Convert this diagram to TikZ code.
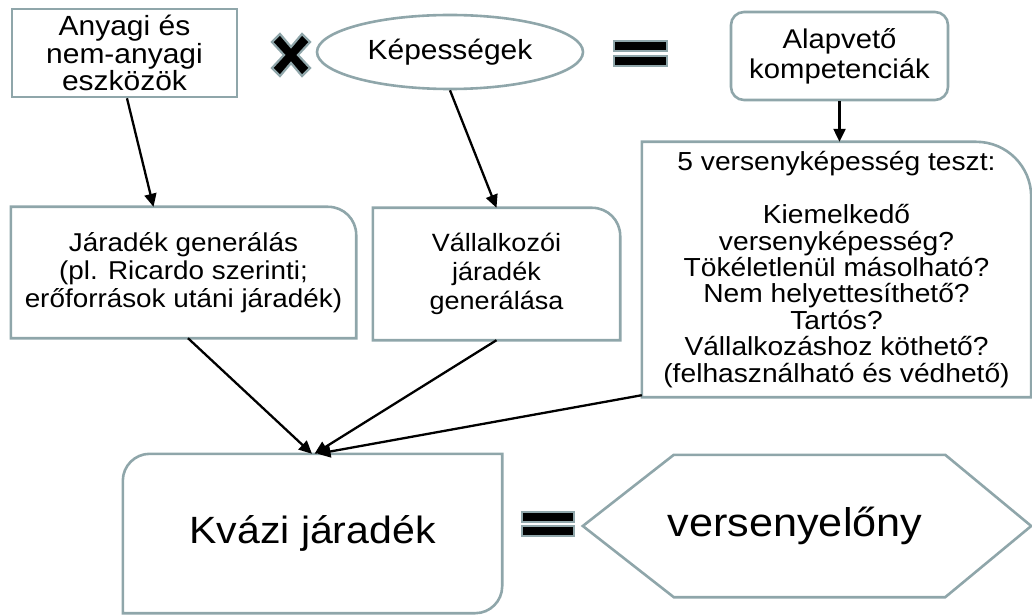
\documentclass[tikz,border=0pt]{standalone}
\usepackage{fontspec}
\setmainfont{Liberation Sans}[FakeStretch=1.08]
\usetikzlibrary{shapes.geometric,arrows.meta,calc}
\definecolor{edge}{RGB}{143,166,170}

\begin{document}
\begin{tikzpicture}[x=1pt,y=1pt,
  outline/.style={draw=edge,line width=2.6pt},
  box/.style={inner sep=0pt,align=center,text=black},
  flow/.style={draw=black,line width=2.3pt,-{Triangle[length=13pt,width=12pt]}},
  symbol/.style={fill=black,draw=edge,line width=2.2pt}
]
\useasboundingbox (0,0) rectangle (1032,614);

% top row: assets x abilities = core competences
\node[box,outline,rectangle,minimum width=225pt,minimum height=88pt,
      font=\fontsize{27.75}{27.5}\selectfont] (assets) at (124.5,561)
      {Anyagi és\\nem-anyagi\\eszközök};
\node[box,outline,ellipse,minimum width=266pt,minimum height=74pt,
      font=\fontsize{27.7}{29}\selectfont] (abil) at (450,562) {Képességek};
\node[box,outline,rectangle,rounded corners=13pt,minimum width=217pt,minimum height=88pt,
      font=\fontsize{27.1}{30}\selectfont] (core) at (839.5,558)
      {Alapvető\\kompetenciák};

% multiplication sign
\begin{scope}[shift={(291,559)}]
  \path[symbol] (-19,13) -- (-11,21) -- (0,8) -- (11,21) -- (19,13) -- (7,0)
    -- (19,-13) -- (11,-21) -- (0,-8) -- (-11,-21) -- (-19,-13) -- (-7,0) -- cycle;
\end{scope}

% equals sign, top
\path[symbol] (614,563) rectangle (667,573);
\path[symbol] (614,548) rectangle (667,558);

% middle row
\node[box,minimum width=345pt,minimum height=131pt,
      font=\fontsize{25.8}{28}\selectfont] (rent) at (183.5,341.5)
      {Járadék generálás\\(pl. Ricardo szerinti;\\erőforrások utáni járadék)};
\draw[outline] (rent.south west) -- (rent.north west) -- ($(rent.north east)+(-28,0)$)
  arc[start angle=90,end angle=0,radius=28] -- (rent.south east) -- cycle;

\node[box,minimum width=247pt,minimum height=132pt,
      font=\fontsize{25}{29}\selectfont] (entre) at (496.5,340)
      {Vállalkozói\\járadék\\generálása};
\draw[outline] (entre.south west) -- (entre.north west) -- ($(entre.north east)+(-28,0)$)
  arc[start angle=90,end angle=0,radius=28] -- (entre.south east) -- cycle;

\node[box,minimum width=389pt,minimum height=255pt,
      font=\fontsize{26.1}{26.4}\selectfont] (test) at (836.5,344.5)
      {5 versenyképesség teszt:\\[26.4pt]Kiemelkedő\\versenyképesség?\\Tökéletlenül másolható?\\Nem helyettesíthető?\\Tartós?\\Vállalkozáshoz köthető?\\(felhasználható és védhető)};
\draw[outline] (test.south west) -- (test.north west) -- ($(test.north east)+(-55,0)$)
  arc[start angle=90,end angle=0,radius=55] -- (test.south east) -- cycle;

% bottom row: quasi rent = competitive advantage
\node[box,minimum width=379pt,minimum height=159pt,
      font=\fontsize{38}{40}\selectfont] (quasi) at (312.5,80.5) {Kvázi járadék};
\draw[outline] ($(quasi.north west)+(0,-27)$) arc[start angle=180,end angle=90,radius=27]
  -- (quasi.north east) -- ($(quasi.south east)+(0,27)$)
  arc[start angle=0,end angle=-90,radius=27] -- (quasi.south west) -- cycle;

\path[symbol] (522,92) rectangle (574,102);
\path[symbol] (522,78) rectangle (574,88);

\node[box,minimum width=424pt,minimum height=142pt,
      font=\fontsize{40}{42}\selectfont] (adv) at (795,88) {versenyelőny};
\draw[outline] (adv.west) -- ($(adv.north west)+(91,0)$) -- ($(adv.north east)+(-62,0)$)
  -- ($(adv.east)+(24,0)$) -- ($(adv.south east)+(-62,0)$) -- ($(adv.south west)+(91,0)$) -- cycle;

% connectors
\draw[flow] ([xshift=2.5pt]assets.south) -- ([xshift=-30pt]rent.north);
\draw[flow] (abil.south) -- (entre.north);
\draw[flow] (core.south) -- (core.south |- test.north);
\draw[flow] ([xshift=4.5pt]rent.south) -- ([xshift=-0.5pt]quasi.north);
\draw[flow] (entre.south) -- ([xshift=2pt]quasi.north);
\draw[flow] ([yshift=2pt]test.south west) -- ([xshift=5pt]quasi.north);
\end{tikzpicture}
\end{document}
